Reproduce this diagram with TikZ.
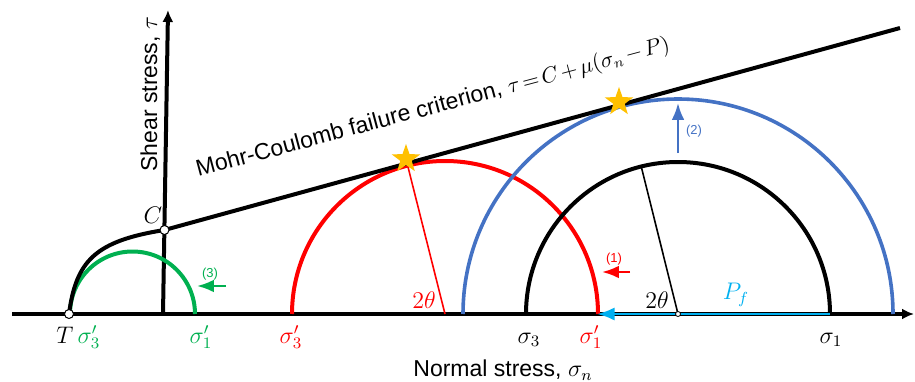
\documentclass[tikz,border=0pt]{standalone}
\usepackage{fontspec}
\setmainfont{Liberation Sans}
\definecolor{mcred}{RGB}{255,0,0}
\definecolor{mcgreen}{RGB}{0,176,80}
\definecolor{mcblue}{RGB}{68,114,196}
\definecolor{mccyan}{RGB}{0,176,240}
\definecolor{mcgold}{RGB}{255,192,0}
\usepackage{tikz}
\usetikzlibrary{arrows.meta, shapes.geometric, positioning, calc}

\begin{document}
\begin{tikzpicture}[x=0.5pt, y=0.5pt, >=Latex,
    thickline/.style={line width=2pt},
    lbl/.style={font=\fontsize{11.5}{13}\selectfont, inner sep=0pt},
    tiny/.style={font=\fontsize{6.5}{7}\selectfont, inner sep=0pt},
    dot/.style={circle, draw, fill=white, line width=0.5pt, inner sep=0pt, minimum size=4.5pt},
    starmark/.style={star, star points=5, star point ratio=2.5, fill=mcgold,
                     inner sep=0pt, minimum size=15pt}]
      \useasboundingbox (0,0) rectangle (915,381);
      % Axes
      \coordinate (xs) at (12,67);
      \coordinate (xe) at (914,67);
      \coordinate (ys) at (163,67);
      \coordinate (ye) at (168,371);
      \draw[thickline, -{Latex[length=6pt, width=5.5pt]}] (xs) -- (xe);
      \draw[thickline, -{Latex[length=6pt, width=5.5pt]}] (ys) -- (ye);
      \node[lbl, rotate=90, anchor=base west] (ylab) at (157,209) {Shear stress, $\tau$};
      \node[lbl, anchor=base west] (xlab) at (413,4.5) {Normal stress, $\sigma_n$};
      % Centres
      \coordinate (cg) at (132.5,67);
      \coordinate (cr) at (445,67);
      \coordinate (cb) at (678,67);
      % Mohr circles
      \draw[thickline, mcgreen] (70,67) arc[start angle=180, end angle=0, radius=62.5];
      \draw[thickline, mcred] (292,67) arc[start angle=180, end angle=0, radius=153];
      \draw[thickline] (526,67) arc[start angle=180, end angle=0, radius=152];
      \draw[line width=1.8pt, mcblue] (463,67) arc[start angle=180, end angle=0, radius=215];
      % Failure envelope
      \coordinate (T) at (69,67);
      \coordinate (C) at (164.5,151);
      \coordinate (mcend) at (900,353);
      \draw[thickline] (T) .. controls (76,120) and (95,140) .. (C) -- (mcend);
      \node[lbl, rotate=15, anchor=base west] (mclab) at (198,204)
        {Mohr-Coulomb failure criterion, {\fontsize{10.5}{12}\selectfont
         $\thickmuskip=2.5mu \medmuskip=2mu \tau = C + \mu(\sigma_n - P)$}};
      \node[dot] (Tdot) at (T) {};
      \node[dot] (Cdot) at (C) {};
      \node[lbl] (Clab) at (153,166) {$C$};
      % Radii
      \coordinate (sr) at (406,222);
      \coordinate (sb) at (619,279);
      \draw[mcred, line width=0.8pt] (cr) -- (sr);
      \draw[line width=0.8pt] (cb) -- ++(104:152);
      \node[starmark] (starr) at (sr) {};
      \node[starmark] (starb) at (sb) {};
      \node[lbl, mcred] (tr) at (424,81) {$2\theta$};
      \node[lbl] (tb) at (657,81) {$2\theta$};
      % Pore pressure shift
      \coordinate (s1) at (830,67);
      \coordinate (s1r) at (597,67);
      \draw[->, mccyan, line width=1.3pt] (s1) -- (s1r);
      \node[lbl, mccyan] (pf) at (736,86) {$P_f$};
      \node[circle, draw, fill=white, line width=0.4pt, inner sep=0pt, minimum size=2.5pt] (cdot) at (cb) {};
      % Steps
      \coordinate (a1s) at (630,109);
      \coordinate (a1e) at (602,109);
      \draw[->, mcred, line width=1.2pt] (a1s) -- (a1e);
      \node[tiny, mcred] (n1) at (614,122) {(1)};
      \coordinate (a2s) at (678,228);
      \coordinate (a2e) at (678,278);
      \draw[->, mcblue, line width=1.2pt] (a2s) -- (a2e);
      \node[tiny, mcblue] (n2) at (694,250) {(2)};
      \coordinate (a3s) at (226,95);
      \coordinate (a3e) at (197,95);
      \draw[->, mcgreen, line width=1.2pt] (a3s) -- (a3e);
      \node[tiny, mcgreen] (n3) at (210,107) {(3)};
      % Stress labels
      \node[lbl, anchor=base] (lT) at (65,38) {$T$};
      \node[lbl, anchor=base, mcgreen] (lg3) at (89,38) {$\sigma_3^{\prime}$};
      \node[lbl, anchor=base, mcgreen] (lg1) at (201,38) {$\sigma_1^{\prime}$};
      \node[lbl, anchor=base, mcred] (lr3) at (291,38) {$\sigma_3^{\prime}$};
      \node[lbl, anchor=base] (lb3) at (529,38) {$\sigma_3$};
      \node[lbl, anchor=base, mcred] (lr1) at (591,38) {$\sigma_1^{\prime}$};
      \node[lbl, anchor=base] (lb1) at (831,38) {$\sigma_1$};
    \end{tikzpicture}
\end{document}
